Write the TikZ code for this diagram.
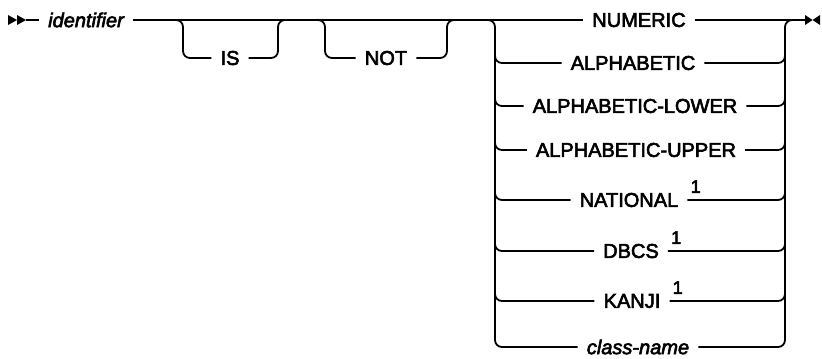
\documentclass[tikz,border=0pt]{standalone}
\usepackage{fontspec}
\newfontfamily\dfont{Liberation Sans}[FakeBold=3]
\begin{document}
\begin{tikzpicture}[x=1bp,y=-1bp,
  ln/.style={line width=1.8bp},
  rr/.style={line width=1.8bp, rounded corners=7bp},
  kw/.style={font=\dfont\fontsize{20bp}{24bp}\selectfont, inner xsep=9bp, inner ysep=0pt, anchor=center},
  var/.style={kw, font=\dfont\itshape\fontsize{20bp}{24bp}\selectfont},
  supnum/.style={font=\dfont\fontsize{18bp}{20bp}\selectfont, inner sep=0pt, anchor=south west},
  tip/.style={fill=black}]
\useasboundingbox (0,0) rectangle (822,358);
% nodes
\node[var] (id) at (86,20) {identifier};
\node[kw] (is) at (230,58) {IS};
\node[kw] (not) at (386,58) {NOT};
\node[kw] (num) at (639,20) {NUMERIC};
\node[kw] (alp) at (633,63) {ALPHABETIC};
\node[kw] (alo) at (635,106) {ALPHABETIC-LOWER};
\node[kw] (aup) at (636,150) {ALPHABETIC-UPPER};
\node[kw] (nat) at (629,200) {NATIONAL};
\node[kw] (dbcs) at (631,251) {DBCS};
\node[kw] (kan) at (632,301) {KANJI};
\node[var] (cls) at (638,347) {class-name};
\node[supnum] (s1) at ([xshift=3bp,yshift=7bp]nat.east) {1};
\node[supnum] (s2) at ([xshift=3bp,yshift=7bp]dbcs.east) {1};
\node[supnum] (s3) at ([xshift=3bp,yshift=7bp]kan.east) {1};
% coordinates
\coordinate (st) at (26,20);
\coordinate (en) at (805,20);
\coordinate (isA) at (173,20); \coordinate (isL) at (183,0);
\coordinate (isR) at (278,0);  \coordinate (isB) at (288,20);
\coordinate (noA) at (318,20); \coordinate (noL) at (325,0);
\coordinate (noR) at (447,0);  \coordinate (noB) at (455,20);
\coordinate (chA) at (485,20); \coordinate (chL) at (495,0);
\coordinate (chR) at (785,0);  \coordinate (chB) at (795,20);
% start / end marks
\fill[tip] (8,15) -- (17,20) -- (8,25) -- cycle;
\fill[tip] (17,15) -- (26,20) -- (17,25) -- cycle;
\fill[tip] (805,15) -- (812.5,20) -- (805,25) -- cycle;
\fill[tip] (820,15) -- (812.5,20) -- (820,25) -- cycle;
% main line
\draw[ln] (st) -- (id.west);
\draw[ln] (id.east) -- (num.west);
\draw[ln] (num.east) -- (en);
% IS
\draw[rr] (isA) -- (isA -| isL) -- (is.west -| isL) -- (is.west);
\draw[rr] (is.east) -- (is.east -| isR) -- (isB -| isR) -- (isB);
% NOT
\draw[rr] (noA) -- (noA -| noL) -- (not.west -| noL) -- (not.west);
\draw[rr] (not.east) -- (not.east -| noR) -- (noB -| noR) -- (noB);
% choice
\draw[rr] (chA) -- (chA -| chL) -- (cls.west -| chL) -- (cls.west);
\draw[rr] (cls.east) -- (cls.east -| chR) -- (chB -| chR) -- (chB);
\foreach \n in {alp,alo,aup,nat,dbcs,kan}{
  \draw[rr] ([yshift=14bp]\n.west -| chL) -- (\n.west -| chL) -- (\n.west);
  \draw[rr] (\n.east) -- (\n.east -| chR) -- ([yshift=14bp]\n.east -| chR);
}
\end{tikzpicture}
\end{document}
